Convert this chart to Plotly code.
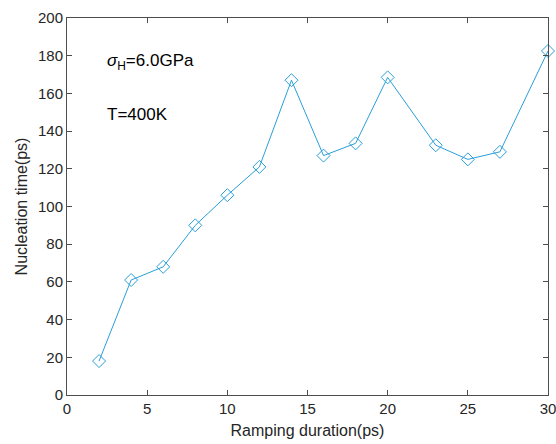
import plotly.graph_objects as go

# Ramping duration (ps) and nucleation time (ps)
ramp_duration = [2, 4, 6, 8, 10, 12, 14, 16, 18, 20, 23, 25, 27, 30]
nucleation_time = [18, 61, 68, 90, 106, 121, 167, 127, 133.5, 168.5, 132.5, 125, 129, 182.5]

x_ticks = [0, 5, 10, 15, 20, 25, 30]
y_ticks = [0, 20, 40, 60, 80, 100, 120, 140, 160, 180, 200]

line_color = "#2a9fd9"
text_color = "#262626"
axis_color = "#4d4d4d"
font_family = "Liberation Sans, Arial, sans-serif"

fig = go.Figure()
fig.add_trace(go.Scatter(
    x=ramp_duration,
    y=nucleation_time,
    mode="lines+markers",
    line=dict(color=line_color, width=1),
    marker=dict(symbol="diamond-open", size=10, color=line_color,
                line=dict(width=1, color=line_color)),
    cliponaxis=False,
    showlegend=False,
))

axis_common = dict(
    showgrid=False,
    zeroline=False,
    showline=True,
    linecolor=axis_color,
    linewidth=1,
    mirror="ticks",
    ticks="inside",
    ticklen=5,
    tickcolor=axis_color,
    automargin=False,
    ticklabeloverflow="allow",
    tickfont=dict(family=font_family, size=15, color=text_color),
)

fig.update_xaxes(
    range=[0, 30], tickvals=x_ticks,
    title=dict(text="Ramping duration(ps)", font=dict(family=font_family, size=16, color=text_color), standoff=8),
    **axis_common,
)
fig.update_yaxes(
    range=[0, 200], tickvals=y_ticks,
    title=dict(text="Nucleation time(ps)", font=dict(family=font_family, size=16, color=text_color), standoff=6),
    **axis_common,
)

fig.add_annotation(
    x=2.35, y=176.5, xref="x", yref="y", xanchor="left", showarrow=False,
    text="<i>σ</i><sub>H</sub>=6.0GPa",
    font=dict(family=font_family, size=17, color="black"),
)
fig.add_annotation(
    x=2.35, y=149, xref="x", yref="y", xanchor="left", showarrow=False,
    text="T=400K",
    font=dict(family=font_family, size=17, color="black"),
)

fig.update_layout(
    width=556, height=444,
    margin=dict(l=67, r=8, t=18, b=49),
    paper_bgcolor="white",
    plot_bgcolor="white",
)

fig.write_html("out.html")
